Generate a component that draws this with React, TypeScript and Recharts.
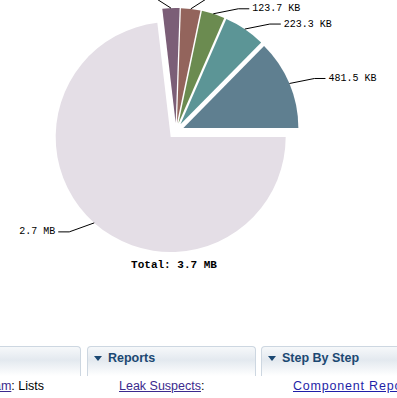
import { PieChart, Pie, Cell } from "recharts"

// heap consumers (KB), counter-clockwise from 3 o'clock
const sliceNames = ["slice1", "slice2", "slice3", "slice4", "slice5", "remainder"]
const sliceSizesKB = [481.5, 223.3, 123.7, 104.2, 91.6, 2790]
const sliceLabels = ["481.5 KB", "223.3 KB", "123.7 KB", "104.2 KB", "91.6 KB", "2.7 MB"]
const sliceColors = ["#5f7f90", "#5c9596", "#6b8b50", "#93645c", "#7b5e77", "#e4dee6"]
const totalLabel = "Total: 3.7 MB"

const data = sliceNames.map((name, i) => ({ name, value: sliceSizesKB[i], label: sliceLabels[i] }))

const CX = 176
const CY = 131
const R = 115
const EXPLODE = 8
const RADIAN = Math.PI / 180

const total = sliceSizesKB.reduce((a, b) => a + b, 0)
const midAngles = sliceSizesKB.map((v, i) => {
  const before = sliceSizesKB.slice(0, i).reduce((a, b) => a + b, 0)
  return ((before + v / 2) / total) * 360
})

const renderLabel = (only: number) => (props: any) => {
  if (props.index !== only) return null
  const { cx, cy, midAngle, outerRadius } = props
  const cos = Math.cos(-midAngle * RADIAN)
  const sin = Math.sin(-midAngle * RADIAN)
  const side = cos >= 0 ? 1 : -1
  const up = -sin
  const x1 = cx + outerRadius * cos
  const y1 = cy + outerRadius * sin
  const dy = up > 0.98 ? -16 : up > 0 ? -5 : 9
  const x2 = x1 + side * 25
  const y2 = y1 + dy
  const x3 = x2 + side * 11
  return (
    <g>
      <polyline points={`${x1},${y1} ${x2},${y2} ${x3},${y2}`} fill="none" stroke="#000" strokeWidth={1} />
      <text
        x={x3 + side * 3}
        y={y2}
        textAnchor={side > 0 ? "start" : "end"}
        dominantBaseline="central"
        fontFamily="'Liberation Mono', monospace"
        fontSize={10}
        fill="#000"
      >
        {props.payload.label}
      </text>
    </g>
  )
}

const panelStyle = (left: number, width: number): React.CSSProperties => ({
  position: "absolute",
  left,
  top: 346,
  width,
  height: 30,
  border: "1px solid #cdd7e1",
  borderBottom: "none",
  borderRadius: "4px 4px 0 0",
  background: "linear-gradient(#f6f8fa, #e3e9ef 45%, #ffffff)",
  boxSizing: "border-box",
})

const headerText: React.CSSProperties = {
  position: "absolute",
  top: 350,
  fontFamily: "'Liberation Sans', Arial, sans-serif",
  fontWeight: "bold",
  fontSize: 12.5,
  lineHeight: "16px",
  color: "#1b4872",
  whiteSpace: "nowrap",
}

const linkRow: React.CSSProperties = {
  position: "absolute",
  top: 378,
  fontFamily: "'Liberation Sans', Arial, sans-serif",
  fontSize: 12.5,
  lineHeight: "16px",
  color: "#000",
  whiteSpace: "nowrap",
}

const Triangle = ({ left }: { left: number }) => (
  <div
    style={{
      position: "absolute",
      left,
      top: 356,
      width: 0,
      height: 0,
      borderLeft: "4px solid transparent",
      borderRight: "4px solid transparent",
      borderTop: "5px solid #1b4872",
    }}
  />
)

export default function App() {
  return (
    <div
      style={{
        position: "absolute",
        left: 0,
        top: 0,
        width: 397,
        height: 398,
        overflow: "hidden",
        background: "#fff",
      }}
    >
      <PieChart width={397} height={290} margin={{ top: 0, right: 0, bottom: 0, left: 0 }}>
        {sliceNames.map((name, i) => (
          <Pie
            key={name}
            data={data}
            dataKey="value"
            cx={CX + EXPLODE * Math.cos(midAngles[i] * RADIAN)}
            cy={CY - EXPLODE * Math.sin(midAngles[i] * RADIAN)}
            outerRadius={R}
            startAngle={0}
            endAngle={360}
            stroke="none"
            label={renderLabel(i)}
            labelLine={false}
            isAnimationActive={false}
          >
            {data.map((d, j) => (
              <Cell key={d.name} fill={j === i ? sliceColors[j] : "transparent"} />
            ))}
          </Pie>
        ))}
      </PieChart>
      <div
        style={{
          position: "absolute",
          left: 0,
          width: 348,
          top: 257,
          textAlign: "center",
          fontFamily: "'Liberation Mono', monospace",
          fontWeight: "bold",
          fontSize: 11,
          lineHeight: "16px",
          color: "#000",
        }}
      >
        {totalLabel}
      </div>

      <div style={panelStyle(-10, 91)} />
      <div style={panelStyle(87, 169)} />
      <div style={panelStyle(261, 150)} />
      <Triangle left={94} />
      <div style={{ ...headerText, left: 108 }}>Reports</div>
      <Triangle left={268} />
      <div style={{ ...headerText, left: 282 }}>Step By Step</div>

      <div style={{ ...linkRow, right: 397 - 44, textAlign: "right" }}>
        <span style={{ color: "#3b2a8e", textDecoration: "underline" }}>Histogram</span>: Lists
      </div>
      <div style={{ ...linkRow, left: 119 }}>
        <span style={{ color: "#3b2a8e", textDecoration: "underline" }}>Leak Suspects</span>:
      </div>
      <div style={{ ...linkRow, left: 293, letterSpacing: 0.8 }}>
        <span style={{ color: "#1f1fa8", textDecoration: "underline" }}>Component Report</span>
      </div>
    </div>
  )
}
